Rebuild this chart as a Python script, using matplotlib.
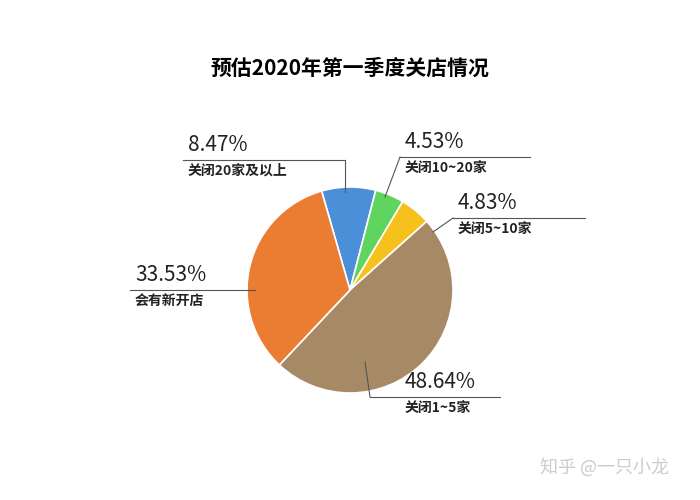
import matplotlib.pyplot as plt

plt.rcParams['font.family'] = ['Noto Sans CJK SC', 'DejaVu Sans']

title = "预估2020年第一季度关店情况"
categories = ["关闭20家及以上", "关闭10~20家", "关闭5~10家", "关闭1~5家", "会有新开店"]
values = [8.47, 4.53, 4.83, 48.64, 33.53]
colors = ["#4a8fd8", "#5fd55f", "#f6c11c", "#a68a66", "#eb7d33"]

fig = plt.figure(figsize=(7, 5), dpi=100)
ax = fig.add_axes([0, 0, 1, 1])

H = 500
ax.pie(values, colors=colors, startangle=106, counterclock=False,
       center=(350, H - 290), radius=103,
       wedgeprops=dict(edgecolor='white', linewidth=1.2))
ax.set_xlim(0, 700)
ax.set_ylim(0, 500)
ax.set_aspect('equal')
ax.axis('off')

ax.text(350, H - 68, title, ha='center', va='center', fontsize=15, fontweight='bold')

# label layout in pixel coords: (text x, line y, line x0, line x1, connector x, point x, point y)
layout = [
    (188, 160, 183, 345, 345, 345, 192),
    (405, 157, 400, 530, 400, 385, 197),
    (458, 218, 453, 585, 453, 433, 232),
    (405, 397, 370, 500, 370, 365, 362),
    (135, 290, 130, 255, 255, 255, 290),
]
for (tx, ly, x0, x1, cx, px, py), cat, v in zip(layout, categories, values):
    ax.plot([x0, x1], [H - ly, H - ly], color='#555555', lw=0.8)
    ax.plot([cx, px], [H - ly, H - py], color='#555555', lw=0.8)
    ax.text(tx, H - ly + 4, f"{v:.2f}%", ha='left', va='bottom', fontsize=15,
            fontweight='medium', color='#222222')
    ax.text(tx, H - ly - 4, cat, ha='left', va='top', fontsize=10,
            fontweight='bold', color='#222222')

ax.text(540, H - 467, "知乎 @一只小龙", ha='left', va='center', fontsize=13,
        color='#cccccc')

fig.savefig("out.png", dpi=100)
